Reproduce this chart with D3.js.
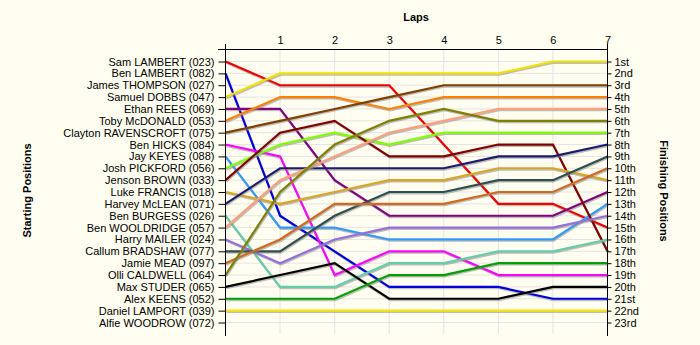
<!DOCTYPE html>
<html><head><meta charset="utf-8">
<script src="https://cdn.jsdelivr.net/npm/d3@7"></script>
<style>
html,body{margin:0;padding:0;background:#fffef0;}
svg{display:block;font-family:"Liberation Sans",Arial,sans-serif;}
</style></head>
<body><svg id="c" width="700" height="345"></svg>
<script>
const laps = [0,1,2,3,4,5,6,7];
const startLabels = ["Sam LAMBERT (023)","Ben LAMBERT (082)","James THOMPSON (027)","Samuel DOBBS (047)","Ethan REES (069)","Toby McDONALD (053)","Clayton RAVENSCROFT (075)","Ben HICKS (084)","Jay KEYES (088)","Josh PICKFORD (056)","Jenson BROWN (033)","Luke FRANCIS (018)","Harvey McLEAN (071)","Ben BURGESS (026)","Ben WOOLDRIDGE (057)","Harry MAILER (024)","Callum BRADSHAW (077)","Jamie MEAD (097)","Olli CALDWELL (064)","Max STUDER (065)","Alex KEENS (052)","Daniel LAMPORT (039)","Alfie WOODROW (072)"];
const finishLabels = ["1st","2nd","3rd","4th","5th","6th","7th","8th","9th","10th","11th","12th","13th","14th","15th","16th","17th","18th","19th","20th","21st","22nd","23rd"];
const drivers = ["Sam LAMBERT","Ben LAMBERT","Samuel DOBBS","Ethan REES","Toby McDONALD","Clayton RAVENSCROFT","Ben HICKS","Jay KEYES","Josh PICKFORD","Jenson BROWN","Luke FRANCIS","Harvey McLEAN","Ben BURGESS","Ben WOOLDRIDGE","Harry MAILER","Callum BRADSHAW","Jamie MEAD","Olli CALDWELL","Max STUDER","Alex KEENS","Daniel LAMPORT"];
const positions = [
  [1,3,3,3,8,13,13,15],
  [2,14,17,20,20,20,21,21],
  [4,2,2,2,2,2,1,1],
  [5,5,11,14,14,14,14,12],
  [6,4,4,5,4,4,4,4],
  [7,6,5,4,3,3,3,3],
  [8,9,19,17,17,19,19,19],
  [9,15,15,16,16,16,16,13],
  [10,8,7,8,7,7,7,7],
  [11,7,6,9,9,8,8,17],
  [12,13,12,11,11,10,10,11],
  [13,10,10,10,10,9,9,8],
  [14,20,20,18,18,17,17,16],
  [15,11,9,7,6,5,5,5],
  [16,18,16,15,15,15,15,14],
  [17,17,14,12,12,11,11,9],
  [18,16,13,13,13,12,12,10],
  [19,12,8,6,5,6,6,6],
  [20,19,18,21,21,21,20,20],
  [21,21,21,19,19,18,18,18],
  [22,22,22,22,22,22,22,22]
];
const colors = ["#ee0000","#0000dd","#f2e000","#800080","#ff8000","#804000","#ff00ff","#3399ff","#80ff00","#800000","#daa520","#1a1a70","#66cdaa","#ffa07a","#9370db","#2f4f4f","#d2691e","#808000","#000000","#00a000","#f5e600"];

const svg = d3.select("#c");
const x = d3.scaleLinear().domain([0,7]).range([225.5,607.5]);
const y = d3.scaleLinear().domain([1,23]).range([61.5,322.5]);
const plotTop = 49.5, plotBottom = 334;

// grid
svg.append("g").selectAll("line").data(d3.range(1,24)).join("line")
  .attr("x1",x(0)).attr("x2",x(7)).attr("y1",d=>y(d)).attr("y2",d=>y(d))
  .attr("stroke","#e4e4e4").attr("stroke-width",1);
svg.append("g").selectAll("line").data(laps.slice(1,7)).join("line")
  .attr("x1",d=>x(d)).attr("x2",d=>x(d)).attr("y1",plotTop).attr("y2",plotBottom)
  .attr("stroke","#e4e4e4").attr("stroke-width",1);

// lines
const line = d3.line().x((d,i)=>x(laps[i])).y(d=>y(d));
const g = svg.append("g");
positions.forEach((p,i)=>{
  g.append("path").attr("d",line(p)).attr("fill","none")
    .attr("stroke","#888").attr("stroke-opacity",0.55).attr("stroke-width",2.2)
    .attr("transform","translate(0.8,1.3)");
  g.append("path").attr("d",line(p)).attr("fill","none")
    .attr("stroke",colors[i]).attr("stroke-width",2.2).attr("stroke-linejoin","miter");
});

// axes
const yl = d3.axisLeft(y).tickValues(d3.range(1,24)).tickFormat(d=>startLabels[d-1]).tickSize(7).tickSizeOuter(0);
const yr = d3.axisRight(y).tickValues(d3.range(1,24)).tickFormat(d=>finishLabels[d-1]).tickSize(4).tickSizeOuter(0);
const xt = d3.axisTop(x).tickValues(laps.slice(1)).tickFormat(d3.format("d")).tickSize(0).tickPadding(6);

function style(sel){
  sel.select(".domain").remove();
  sel.selectAll("line").attr("stroke","#000");
  sel.selectAll("text").attr("fill","#000").style("font-size","11px").style("font-family","'Liberation Sans',Arial,sans-serif");
}
svg.append("g").attr("transform",`translate(${x(0)},0)`).call(yl).call(style).selectAll("text").attr("dx","-1");
svg.append("g").attr("transform",`translate(${x(7)},0)`).call(yr).call(style);
svg.append("g").attr("transform",`translate(0,${plotTop})`).call(xt).call(style);

// axis lines
svg.append("line").attr("x1",x(0)).attr("x2",x(0)).attr("y1",44).attr("y2",plotBottom+2).attr("stroke","#000");
svg.append("line").attr("x1",x(7)).attr("x2",x(7)).attr("y1",44).attr("y2",plotBottom+2).attr("stroke","#000");
svg.append("line").attr("x1",218).attr("x2",x(7)).attr("y1",plotTop).attr("y2",plotTop).attr("stroke","#000");

// titles
svg.append("text").attr("x",416).attr("y",21).attr("text-anchor","middle")
  .style("font-size","11px").style("font-weight","bold").text("Laps");
svg.append("text").attr("transform","translate(31,190.5) rotate(-90)").attr("text-anchor","middle")
  .style("font-size","11px").style("font-weight","bold").text("Starting Positions");
svg.append("text").attr("transform","translate(660,191) rotate(90)").attr("text-anchor","middle")
  .style("font-size","11px").style("font-weight","bold").text("Finishing Positions");
</script></body></html>
